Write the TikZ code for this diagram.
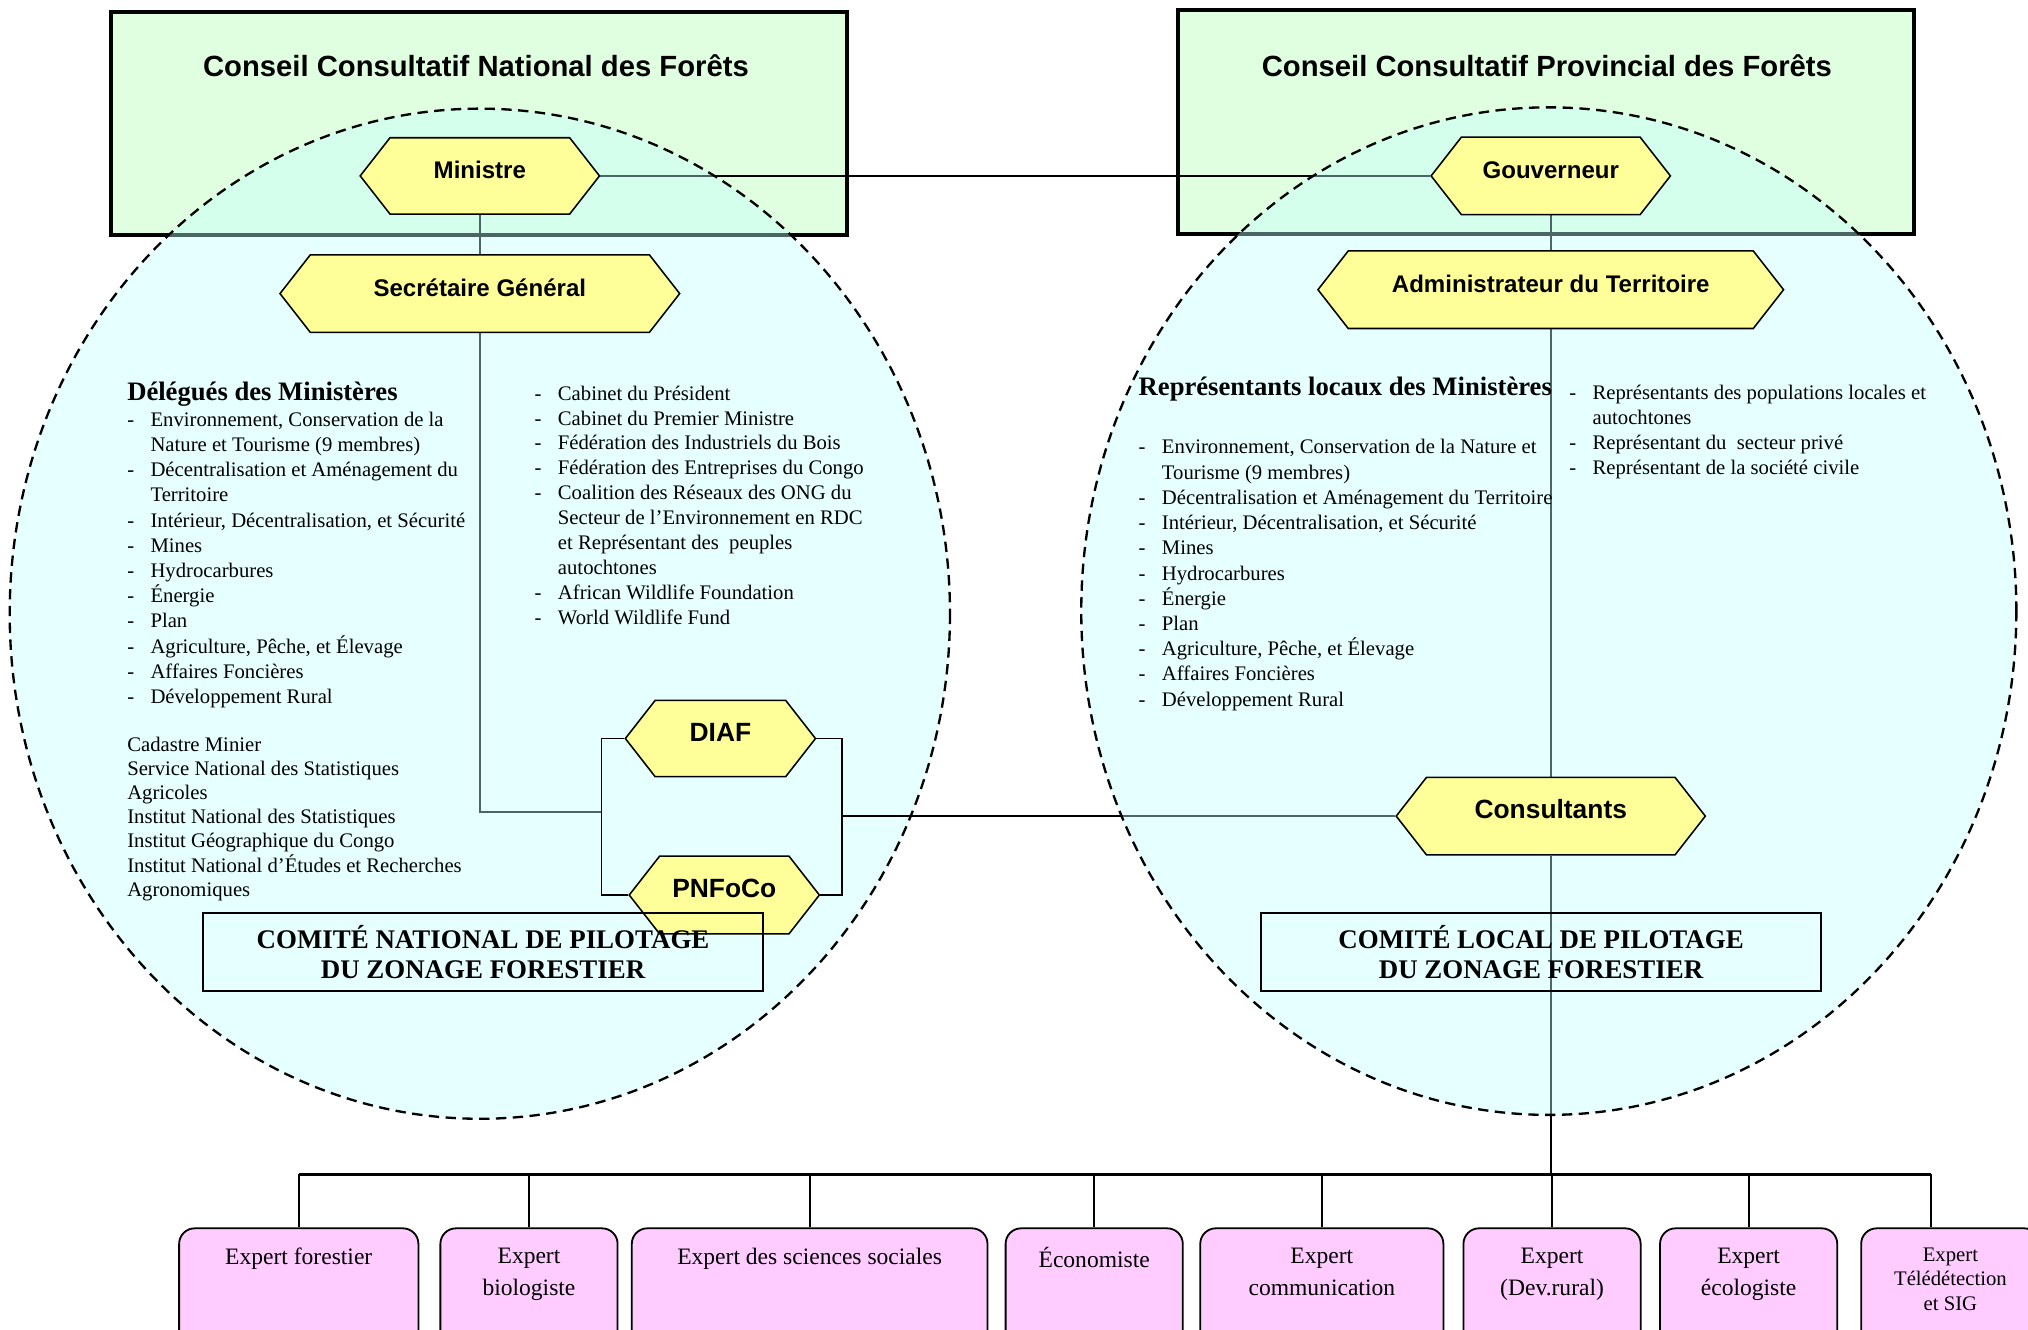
\documentclass[tikz,border=0pt]{standalone}
\usepackage{fontspec}
\setmainfont{Liberation Serif}
\setsansfont{Liberation Sans}
\usepackage{xcolor}
\usetikzlibrary{positioning,shapes,arrows}

\definecolor{vertpale}{HTML}{E0FFE0}
\definecolor{cyanpale}{HTML}{C0FFFF}
\definecolor{jaune}{HTML}{FFFF99}
\definecolor{rose}{HTML}{FFCCFF}

\pgfdeclarelayer{fond}
\pgfdeclarelayer{voileA}
\pgfdeclarelayer{milieu}
\pgfdeclarelayer{voileB}
\pgfsetlayers{fond,voileA,milieu,voileB,main}

\newcommand{\tiret}{\makebox[9pt][l]{-}}
\newcommand{\suite}{\hspace*{9pt}}

\begin{document}
\begin{tikzpicture}
  [x=0.5pt,y=-0.5pt,
   hexa/.style={signal, signal to=east and west, signal pointer angle=104, draw, fill=jaune, line width=0.6pt, inner sep=0pt, text height=7pt, text depth=5pt, font=\sffamily\bfseries\fontsize{9.3}{10}\selectfont},
   grand/.style={font=\sffamily\bfseries\fontsize{10.2}{11}\selectfont},
   conseil/.style={draw, line width=1.6pt, fill=vertpale},
   zone/.style={draw, dash pattern=on 4pt off 2.5pt, line width=0.9pt, fill=cyanpale, fill opacity=0.4},
   titre/.style={font=\sffamily\bfseries\fontsize{11.3}{13}\selectfont},
   comite/.style={draw, line width=0.7pt, minimum width=216.5pt, minimum height=30pt, align=center, inner sep=0pt, font=\bfseries\fontsize{10.4}{11.5}\selectfont},
   expert/.style={draw, line width=0.7pt, fill=rose, rounded corners=6pt, anchor=north, align=center, inner xsep=0pt, inner ysep=7.5pt, text depth=40pt, font=\fontsize{9.1}{12.5}\selectfont},
   liste/.style={anchor=base west, align=left, inner sep=0pt, font=\fontsize{8}{9.75}\selectfont},
   entete/.style={anchor=base west, inner sep=0pt, font=\bfseries\fontsize{10.3}{11}\selectfont},
   lien/.style={line width=0.7pt}]

  \useasboundingbox (0,0) rectangle (1568,1028);
  \clip (0,0) rectangle (1568,1028);

  % hexagones
  \node[hexa, minimum width=92.5pt, minimum height=29.5pt] (min) at (371,136) {Ministre};
  \node[hexa, minimum width=154.5pt, minimum height=30pt] (sg) at (371,227) {Secrétaire Général};
  \node[hexa, minimum width=92.5pt, minimum height=30pt] (gov) at (1199,136) {Gouverneur};
  \node[hexa, minimum width=180pt, minimum height=30pt] (adm) at (1199,224) {Administrateur du Territoire};
  \node[hexa, grand, minimum width=73.5pt, minimum height=29.5pt] (diaf) at (557,571) {DIAF};
  \node[hexa, grand, minimum width=73.5pt, minimum height=30pt] (pnf) at (560,692) {PNFoCo};
  \node[hexa, grand, minimum width=119.5pt, minimum height=30pt] (cons) at (1199,631) {Consultants};

  \coordinate (brL) at (465,628);
  \coordinate (brR) at (651,631);
  \coordinate (bus) at (0,908);

  % experts
  \node[expert, minimum width=92.5pt] (e1) at (231,949) {Expert forestier};
  \node[expert, minimum width=68.5pt] (e2) at (409,949) {Expert\\biologiste};
  \node[expert, minimum width=137.5pt] (e3) at (626,949) {Expert des sciences sociales};
  \node[expert, minimum width=68.5pt] (e4) at (846,949) {Économiste};
  \node[expert, minimum width=94pt] (e5) at (1022,949) {Expert\\communication};
  \node[expert, minimum width=68.5pt] (e6) at (1200,949) {Expert\\(Dev.rural)};
  \node[expert, minimum width=68.5pt] (e7) at (1352,949) {Expert\\écologiste};
  \node[expert, minimum width=69pt, font=\fontsize{8}{9.5}\selectfont] (e8) at (1508,949) {Expert\\Télédétection\\et SIG};

  \begin{pgfonlayer}{fond}
    \draw[conseil] (86,9) rectangle (655,182);
    \draw[conseil] (911,8) rectangle (1480,181);
    \draw[lien] (min.east) -- (gov.west);
    \draw[lien] (min.south) -- (sg.north);
    \draw[lien] (sg.south) |- (brL);
    \draw[lien] (gov.south) -- (adm.north);
    \draw[lien] (adm.south) -- (cons.north);
    \draw[lien] (cons.south) -- (cons.south |- bus);
  \end{pgfonlayer}

  \begin{pgfonlayer}{voileA}
    \draw[zone] (371,474.5) ellipse (363.5 and 390.5);
  \end{pgfonlayer}

  \begin{pgfonlayer}{milieu}
    \draw[lien] (diaf.west) -| (brL) |- (pnf.west);
    \draw[lien] (diaf.east) -| (brR) |- (pnf.east);
    \draw[lien] (brR) -- (cons.west);
  \end{pgfonlayer}

  \begin{pgfonlayer}{voileB}
    \draw[zone] (1197.5,472.5) ellipse (361.5 and 389.5);
  \end{pgfonlayer}

  \node[titre] (tnat) at (368,51) {Conseil Consultatif National des Forêts};
  \node[titre] (tprov) at (1196,51) {Conseil Consultatif Provincial des Forêts};

  \node[comite] (cnat) at (373.5,736) {COMITÉ NATIONAL DE PILOTAGE\\DU ZONAGE FORESTIER};
  \node[comite] (cloc) at (1191.5,736) {COMITÉ LOCAL DE PILOTAGE\\DU ZONAGE FORESTIER};

  % listes
  \node[entete] (hdel) at (98,310) {Délégués des Ministères};
  \node[liste] (ldel) at (98,544) {\tiret Environnement, Conservation de la\\
    \suite Nature et Tourisme (9 membres)\\
    \tiret Décentralisation et Aménagement du\\
    \suite Territoire\\
    \tiret Intérieur, Décentralisation, et Sécurité\\
    \tiret Mines\\
    \tiret Hydrocarbures\\
    \tiret Énergie\\
    \tiret Plan\\
    \tiret Agriculture, Pêche, et Élevage\\
    \tiret Affaires Foncières\\
    \tiret Développement Rural};
  \node[liste, font=\fontsize{8}{9.35}\selectfont] (lserv) at (98,693) {Cadastre Minier\\
    Service National des Statistiques\\
    Agricoles\\
    Institut National des Statistiques\\
    Institut Géographique du Congo\\
    Institut National d’Études et Recherches\\
    Agronomiques};
  \node[liste, font=\fontsize{8}{9.65}\selectfont] (lcab) at (413,483) {\tiret Cabinet du Président\\
    \tiret Cabinet du Premier Ministre\\
    \tiret Fédération des Industriels du Bois\\
    \tiret Fédération des Entreprises du Congo\\
    \tiret Coalition des Réseaux des ONG du\\
    \suite Secteur de l’Environnement en RDC\\
    \suite et Représentant des~ peuples\\
    \suite autochtones\\
    \tiret African Wildlife Foundation\\
    \tiret World Wildlife Fund};

  \node[entete] (hrep) at (880,306) {Représentants locaux des Ministères};
  \node[liste] (lrep) at (880,546) {\tiret Environnement, Conservation de la Nature et\\
    \suite Tourisme (9 membres)\\
    \tiret Décentralisation et Aménagement du Territoire\\
    \tiret Intérieur, Décentralisation, et Sécurité\\
    \tiret Mines\\
    \tiret Hydrocarbures\\
    \tiret Énergie\\
    \tiret Plan\\
    \tiret Agriculture, Pêche, et Élevage\\
    \tiret Affaires Foncières\\
    \tiret Développement Rural};
  \node[liste, font=\fontsize{8}{9.65}\selectfont] (lpop) at (1213,367) {\tiret Représentants des populations locales et\\
    \suite autochtones\\
    \tiret Représentant du~ secteur privé\\
    \tiret Représentant de la société civile};

  % experts
  \foreach \i in {1,...,7}
    \draw[lien] (e\i.north) -- (e\i.north |- bus);
  \draw[lien] ([xshift=-7.5pt]e8.north) -- ([xshift=-7.5pt]e8.north |- bus);
  \draw[lien, line width=1.2pt] (e1.north |- bus) -- ([xshift=-7.5pt]e8.north |- bus);
\end{tikzpicture}
\end{document}
